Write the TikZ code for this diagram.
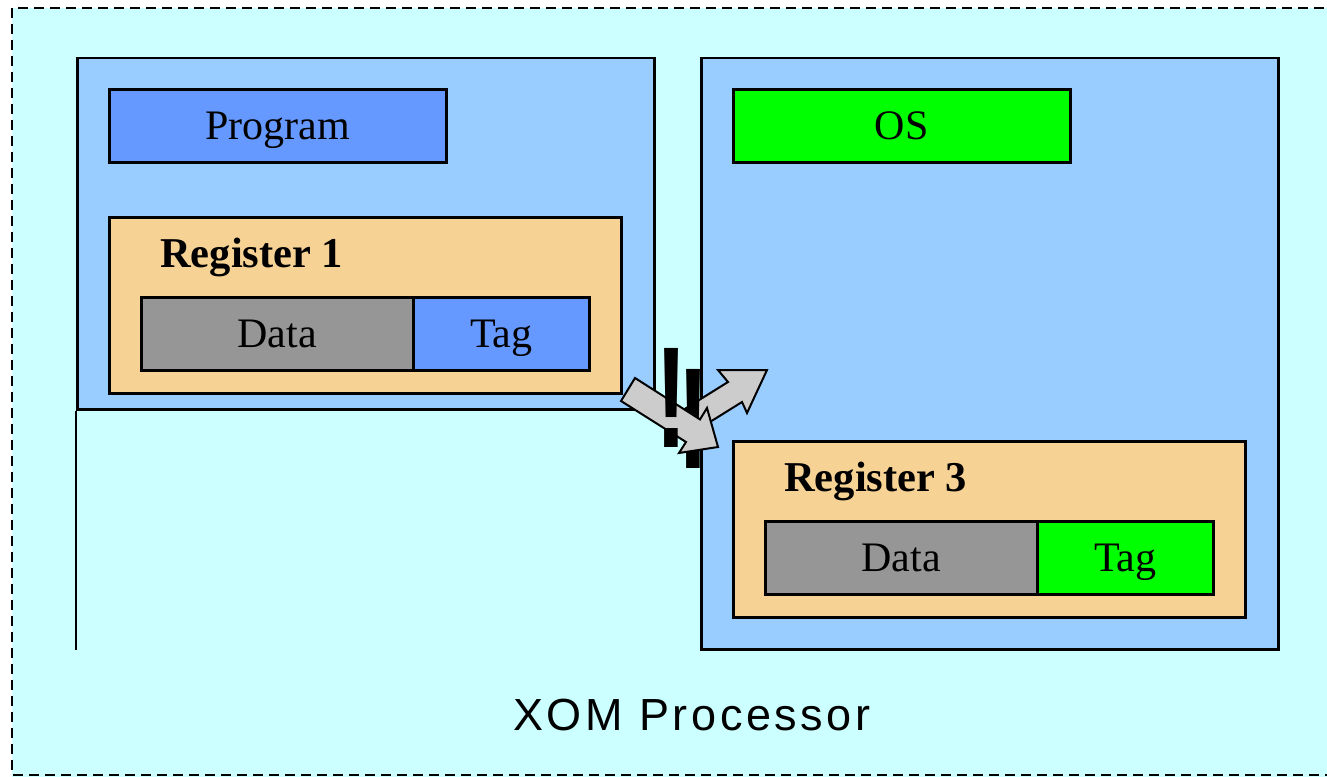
\documentclass[tikz,border=0pt]{standalone}
\usepackage{graphicx}
\usepackage{fontspec}
\setmainfont{Liberation Serif}
\newfontfamily\sansxom[LetterSpace=8]{Liberation Sans}
\newfontfamily\bangfont{Liberation Sans}
\definecolor{procbg}{HTML}{CCFFFF}
\definecolor{panelblue}{HTML}{99CCFF}
\definecolor{progblue}{HTML}{6699FF}
\definecolor{osgreen}{HTML}{00FF00}
\definecolor{regtan}{HTML}{F6D295}
\definecolor{datagray}{HTML}{969696}
\definecolor{arrowgray}{HTML}{CCCCCC}
\begin{document}
\begin{tikzpicture}[x=1pt,y=-1pt,
  boxbase/.style={draw=black, line width=2.5pt, anchor=north west, inner sep=0pt,
    font=\fontsize{42}{48}\selectfont, text height=28pt, text depth=0pt},
  panel/.style={boxbase, fill=panelblue, minimum width=577pt},
  wide/.style={boxbase, minimum width=337pt, minimum height=73pt},
  regbox/.style={boxbase, fill=regtan, minimum width=512pt, minimum height=176pt},
  datacell/.style={boxbase, fill=datagray, minimum width=272pt, minimum height=73pt},
  tagcell/.style={boxbase, minimum width=176pt, minimum height=73pt},
  reglabel/.style={anchor=base west, inner sep=0pt, font=\fontsize{42.5}{48}\selectfont\bfseries},
  blockarrow/.style={draw=black, line width=2pt, fill=arrowgray, line join=miter},
  bang/.style={anchor=base, inner sep=0pt, font=\bangfont\bfseries\fontsize{144}{144}\selectfont}
]
\useasboundingbox (0,0) rectangle (1327,776);
\clip (0,0) rectangle (1327,776);

% processor area with its dashed outline
\fill[procbg] (12,8) rectangle (1340,790);
\draw[line width=2.6pt, dash pattern=on 10pt off 6pt] (1340,8) -- (12,8) -- (12,775) -- (1340,775);

% two compartments
\node[panel, minimum height=351pt] (left) at (76,57) {};
\node[panel, minimum height=591pt] (right) at (700,57) {};
\coordinate (leftfoot) at (76,650);
\draw[line width=1.2pt] (left.south west) -- (leftfoot);

% left compartment: program and register 1
\node[wide, fill=progblue] (prog) at (108,88) {Program};
\node[regbox] (reg1) at (108,216) {};
\node[reglabel] (reg1lbl) at (160,267) {Register 1};
\node[datacell] (data1) at (140,296) {Data};
\node[tagcell, fill=progblue] (tag1) at (412,296) {Tag};

% right compartment: OS and register 3
\node[wide, fill=osgreen] (os) at (732,88) {OS};
\node[regbox] (reg3) at (732,440) {};
\node[reglabel] (reg3lbl) at (784,491) {Register 3};
\node[datacell] (data3) at (764,520) {Data};
\node[tagcell, fill=osgreen] (tag3) at (1036,520) {Tag};

% blocked transfer between the compartments
\draw[blockarrow] (685.5,408.5) -- (728,382) -- (718,370) -- (767,370)
  -- (747,413) -- (742,402) -- (699.5,428.5) -- cycle;
\node[bang] (bang2) at (693.5,468) {\scalebox{0.67}[1]{!}};
\draw[blockarrow] (635,378) -- (700,419.4) -- (707,408) -- (718,447)
  -- (679,453) -- (686,442) -- (621,401) -- cycle;
\node[bang] (bang1) at (672,447) {\scalebox{0.67}[1]{!}};

% caption
\node[anchor=base, inner sep=0pt, font=\sansxom\fontsize{45}{50}\selectfont] (caption) at (692,730) {XOM Processor};
\end{tikzpicture}
\end{document}
